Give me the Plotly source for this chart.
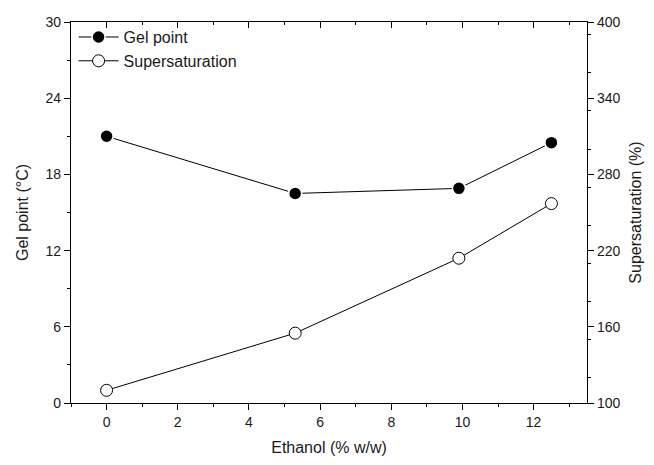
import plotly.graph_objects as go

ethanol = [0, 5.3, 9.9, 12.5]
gel_point = [21.0, 16.5, 16.9, 20.5]
supersaturation = [110, 155, 214, 257]

x_ticks = [0, 2, 4, 6, 8, 10, 12]
y_left_ticks = [0, 6, 12, 18, 24, 30]
y_right_ticks = [100, 160, 220, 280, 340, 400]

FONT = "Liberation Sans, Arial, sans-serif"
INK = "#1a1a1a"

fig = go.Figure()
fig.add_trace(go.Scatter(
    x=ethanol, y=gel_point, name="Gel point", mode="lines+markers",
    line=dict(color="black", width=1),
    marker=dict(symbol="circle", size=13, color="black", line=dict(color="white", width=1.5)),
    xaxis="x", yaxis="y",
))
fig.add_trace(go.Scatter(
    x=ethanol, y=supersaturation, name="Supersaturation", mode="lines+markers",
    line=dict(color="black", width=1),
    marker=dict(symbol="circle", size=12, color="white", line=dict(color="black", width=1)),
    xaxis="x", yaxis="y2",
))
# invisible trace to carry the top mirror axis
fig.add_trace(go.Scatter(x=[ethanol[0]], y=[gel_point[0]], mode="markers",
                         marker=dict(opacity=0), showlegend=False, hoverinfo="skip",
                         xaxis="x2", yaxis="y"))

axis_common = dict(
    showline=True, linecolor="black", linewidth=1.2, showgrid=False, zeroline=False,
    ticks="outside", ticklen=6, tickwidth=1.2, tickcolor="black",
    tickfont=dict(family=FONT, size=14, color=INK),
)

fig.update_layout(
    width=654, height=465,
    margin=dict(l=71, r=61, t=22, b=60),
    plot_bgcolor="white", paper_bgcolor="white",
    font=dict(family=FONT, color=INK),
    showlegend=True,
    legend=dict(x=0.005, y=1.005, xanchor="left", yanchor="top",
                bgcolor="rgba(0,0,0,0)", font=dict(family=FONT, size=16, color=INK),
                tracegroupgap=0, itemwidth=40),
    xaxis=dict(**axis_common, range=[-1, 13.5], tickvals=x_ticks,
               ticktext=[str(v) for v in x_ticks],
               minor=dict(dtick=1, ticks="outside", ticklen=3, tickcolor="black", tickwidth=1.2),
               title=dict(text="Ethanol (% w/w)", font=dict(family=FONT, size=16, color=INK), standoff=12)),
    xaxis2=dict(overlaying="x", side="top", range=[-1, 13.5], tickvals=x_ticks,
                showline=True, linecolor="black", linewidth=1.2, showgrid=False, zeroline=False,
                ticks="inside", ticklen=6, tickwidth=1.2, tickcolor="black", showticklabels=False,
                minor=dict(dtick=1, ticks="inside", ticklen=3, tickcolor="black", tickwidth=1.2)),
    yaxis=dict(**axis_common, range=[0, 30], tickvals=y_left_ticks,
               minor=dict(dtick=3, ticks="outside", ticklen=3, tickcolor="black", tickwidth=1.2),
               title=dict(text="Gel point (°C)", font=dict(family=FONT, size=16, color=INK), standoff=12)),
    yaxis2=dict(**axis_common, overlaying="y", side="right", range=[100, 400], tickvals=y_right_ticks,
                minor=dict(dtick=30, ticks="outside", ticklen=3, tickcolor="black", tickwidth=1.2),
                title=dict(text="Supersaturation (%)", font=dict(family=FONT, size=16, color=INK), standoff=10)),
)

fig.write_html("out.html")
